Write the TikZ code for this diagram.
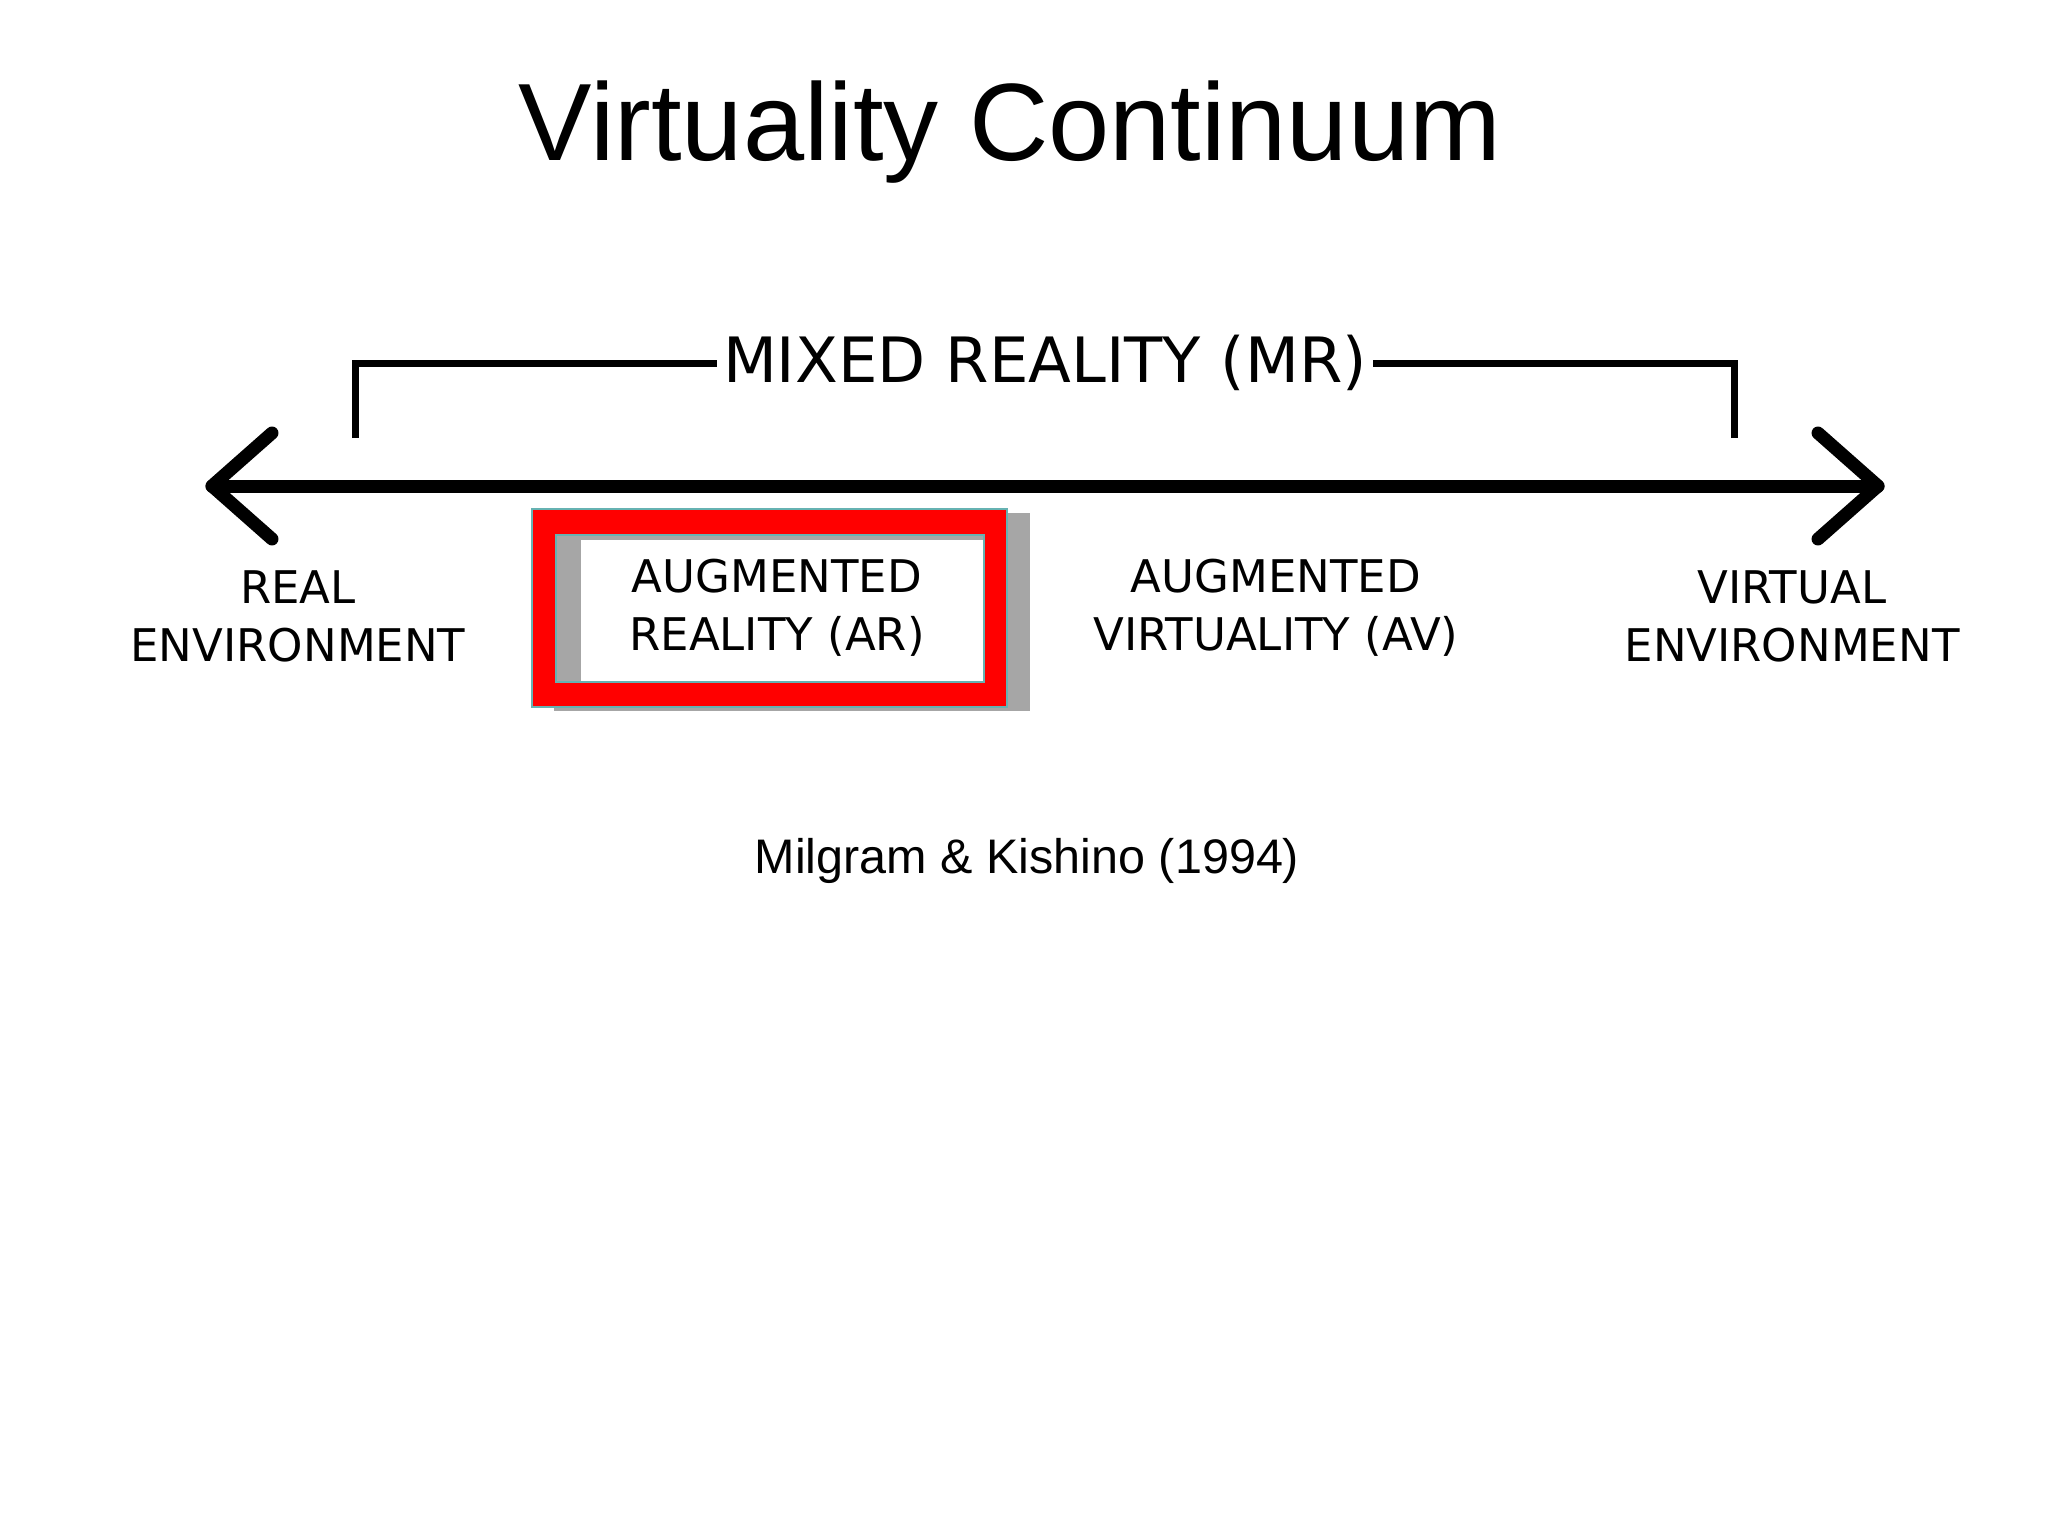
\documentclass[tikz,border=0pt]{standalone}
\usepackage{fontspec}
\setmainfont{Liberation Sans}
\newfontfamily\dv{DejaVu Sans}
\begin{document}
\begin{tikzpicture}[x=1pt,y=-1pt,
  lbl/.style={font=\dv\fontsize{45}{58}\selectfont,align=center,inner sep=0},
  axis/.style={line width=13pt,line cap=round,line join=round}]
\useasboundingbox[fill=white] (0,0) rectangle (2048,1536);
\node[font=\fontsize{110}{120}\selectfont] (title) at (1010,132) {Virtuality Continuum};
% bracket
\coordinate (bl) at (355,438); \coordinate (br) at (1734,438);
\node[font=\dv\fontsize{62.5}{70}\selectfont,inner sep=6pt] (mr) at (1045,363) {MIXED REALITY (MR)};
\draw[line width=7pt] (bl) |- (mr.west);
\draw[line width=7pt] (br) |- (mr.east);
% axis
\coordinate (L) at (212,486); \coordinate (R) at (1878,486);
\draw[axis] (L) -- (R);
\draw[axis] (272,433) -- (L) -- (272,539);
\draw[axis] (1818,433) -- (R) -- (1818,539);
% AR box
\fill[gray!70] (554,513) rectangle (1030,711);
\draw[fill=red,draw=teal!60,line width=1.5pt] (532,509) rectangle (1007,707);
\fill[gray!70] (556,535) rectangle (984,682);
\fill[white] (581,540) rectangle (984,682);
\draw[draw=teal!60,line width=1.5pt] (556,535) rectangle (984,682);
\node[lbl] (ar) at (777,608) {AUGMENTED\\REALITY (AR)};
\node[lbl] (re) at (298,616) {REAL\\ENVIRONMENT};
\node[lbl] (av) at (1276,608) {AUGMENTED\\VIRTUALITY (AV)};
\node[lbl] (ve) at (1792,616) {VIRTUAL\\ENVIRONMENT};
\node[font=\fontsize{48.5}{54}\selectfont] (cite) at (1027,861) {Milgram \& Kishino (1994)};
\end{tikzpicture}
\end{document}
